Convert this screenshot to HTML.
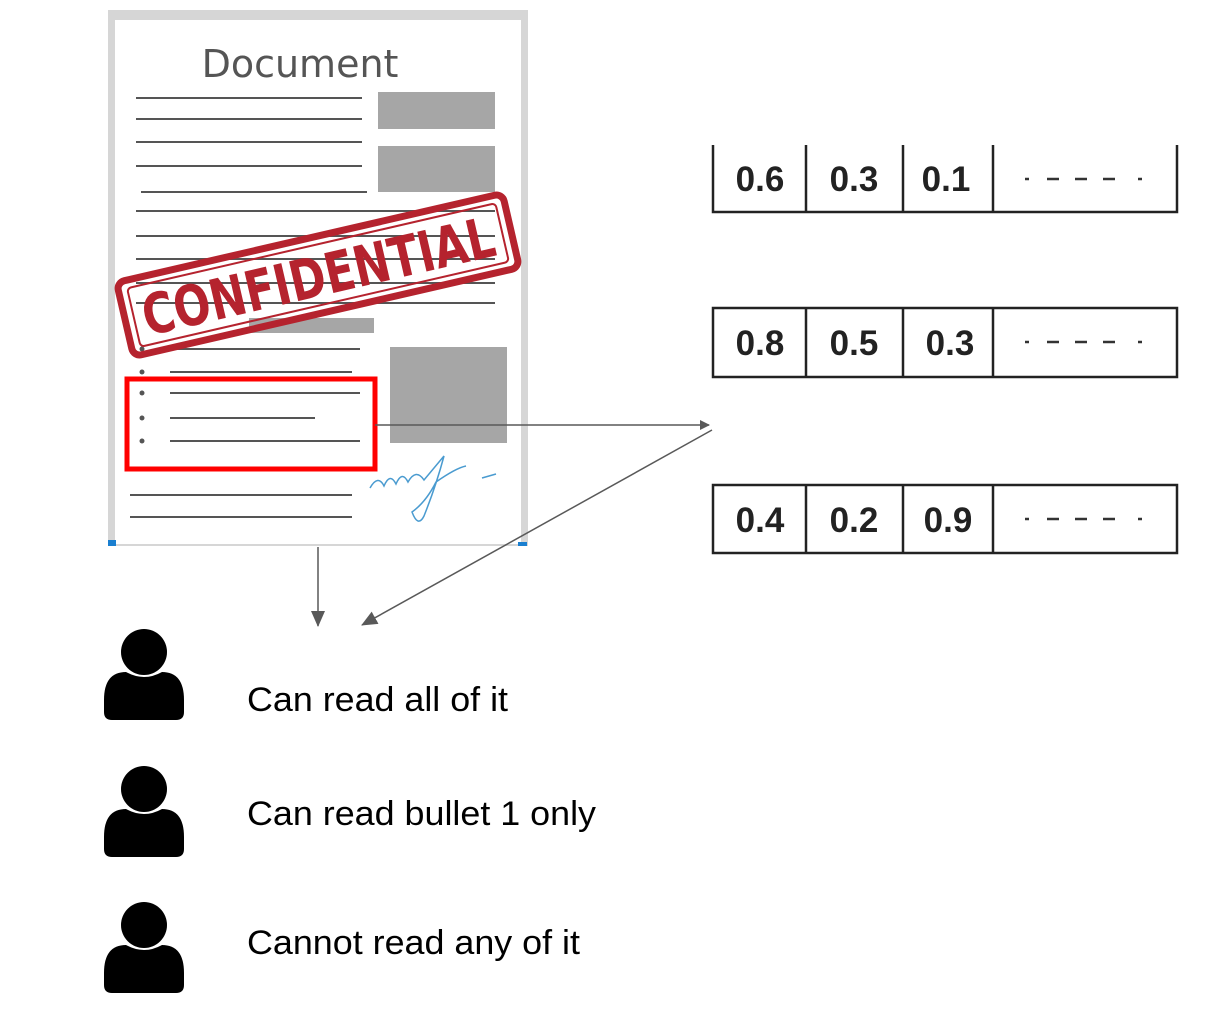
<!DOCTYPE html>
<html><head><meta charset="utf-8"><style>
html,body{margin:0;padding:0;background:#fff;}
svg{display:block}
</style></head><body>
<svg width="1212" height="1028" viewBox="0 0 1212 1028" xmlns="http://www.w3.org/2000/svg" font-family="Liberation Sans, Arial, sans-serif">
<defs>
<marker id="ah" markerWidth="10" markerHeight="10" refX="9" refY="5" orient="auto" markerUnits="userSpaceOnUse">
<path d="M0,0 L10,5 L0,10 z" fill="#595959"/></marker>
<marker id="ah2" markerWidth="16" markerHeight="14" refX="15" refY="7" orient="auto" markerUnits="userSpaceOnUse">
<path d="M0,0 L16,7 L0,14 z" fill="#595959"/></marker>
</defs>
<!-- document page -->
<rect x="108" y="10" width="420" height="536" fill="#d6d6d6"/>
<rect x="115" y="20" width="406" height="524" fill="#fff"/>
<rect x="108" y="540" width="8" height="6" fill="#1a7fd0"/>
<rect x="518" y="542" width="9" height="4" fill="#1a7fd0"/>
<text x="300" y="77" font-size="38" fill="#555" text-anchor="middle" font-family="DejaVu Sans, sans-serif">Document</text>
<g stroke="#555" stroke-width="2">
<line x1="136" y1="98" x2="362" y2="98"/>
<line x1="136" y1="119" x2="362" y2="119"/>
<line x1="136" y1="142" x2="362" y2="142"/>
<line x1="136" y1="166" x2="362" y2="166"/>
<line x1="141" y1="192" x2="367" y2="192"/>
<line x1="136" y1="211" x2="495" y2="211"/>
<line x1="136" y1="236" x2="495" y2="236"/>
<line x1="136" y1="259" x2="495" y2="259"/>
<line x1="136" y1="283" x2="495" y2="283"/>
<line x1="136" y1="303" x2="495" y2="303"/>
<line x1="170" y1="349" x2="360" y2="349"/>
<line x1="170" y1="372" x2="352" y2="372"/>
<line x1="170" y1="393" x2="360" y2="393"/>
<line x1="170" y1="418" x2="315" y2="418"/>
<line x1="170" y1="441" x2="360" y2="441"/>
<line x1="130" y1="495" x2="352" y2="495"/>
<line x1="130" y1="517" x2="352" y2="517"/>
</g>
<g fill="#555"><circle cx="142" cy="349" r="2.5"/><circle cx="142" cy="372" r="2.5"/><circle cx="142" cy="393" r="2.5"/><circle cx="142" cy="418" r="2.5"/><circle cx="142" cy="441" r="2.5"/></g>
<g fill="#a6a6a6">
<rect x="378" y="92" width="117" height="37"/>
<rect x="378" y="146" width="117" height="46"/>
<rect x="249" y="318" width="125" height="15"/>
<rect x="390" y="347" width="117" height="96"/>
</g>
<!-- stamp -->
<g transform="translate(318,275) rotate(-13)">
<rect x="-198" y="-38" width="396" height="76" rx="8" fill="none" stroke="#b5232e" stroke-width="7"/>
<rect x="-189" y="-30" width="378" height="60" rx="4" fill="none" stroke="#b5232e" stroke-width="2"/>
<text x="0" y="21" font-size="56" font-weight="bold" fill="#b5232e" text-anchor="middle" font-family="DejaVu Sans, sans-serif" textLength="360" lengthAdjust="spacingAndGlyphs">CONFIDENTIAL</text>
</g>
<!-- signature -->
<path d="M370,488 q8,-14 14,-2 q6,-14 12,-2 q6,-14 12,-2 q8,-14 16,-2 q10,-12 20,-24 q-8,30 -20,60 q-6,12 -12,-4 q14,-10 24,-30 q20,-14 30,-16 M482,478 l14,-4" fill="none" stroke="#4a9bd0" stroke-width="1.5"/>
<!-- red box -->
<rect x="127" y="379" width="248" height="90" fill="none" stroke="#f00" stroke-width="5"/>
<!-- arrows -->
<g stroke="#595959" stroke-width="1.5" fill="none">
<line x1="375" y1="425" x2="709" y2="425" marker-end="url(#ah)"/>
<line x1="712" y1="430" x2="362" y2="625" marker-end="url(#ah2)"/>
<line x1="318" y1="547" x2="318" y2="626" marker-end="url(#ah2)"/>
</g>
<!-- tables -->
<g stroke="#222" stroke-width="2.5" fill="none">
<path d="M713,145 V212 H1177 V145 M806,145 V212 M903,145 V212 M993,145 V212"/>
<rect x="713" y="308" width="464" height="69"/>
<path d="M806,308 V377 M903,308 V377 M993,308 V377"/>
<rect x="713" y="485" width="464" height="68"/>
<path d="M806,485 V553 M903,485 V553 M993,485 V553"/>
</g>
<g font-size="35" font-weight="bold" fill="#222" text-anchor="middle" font-family="Liberation Sans, sans-serif">
<text x="760" y="191">0.6</text><text x="854" y="191">0.3</text><text x="946" y="191">0.1</text>
<text x="760" y="355">0.8</text><text x="854" y="355">0.5</text><text x="950" y="355">0.3</text>
<text x="760" y="532">0.4</text><text x="854" y="532">0.2</text><text x="948" y="532">0.9</text>
</g>
<g stroke="#333" stroke-width="2.5">
<path d="M1025,179 h4 M1047,179 h12 M1075,179 h12 M1103,179 h12 M1138,179 h4"/>
<path d="M1025,342 h4 M1047,342 h12 M1075,342 h12 M1103,342 h12 M1138,342 h4"/>
<path d="M1025,519 h4 M1047,519 h12 M1075,519 h12 M1103,519 h12 M1138,519 h4"/>
</g>
<!-- persons -->
<g fill="#000">
<g><circle cx="144" cy="652" r="23"/><path d="M104,700 q0,-28 22,-28 q18,10 36,0 q22,0 22,28 v12 q0,8 -8,8 h-64 q-8,0 -8,-8z"/></g>
<g transform="translate(0,137)"><circle cx="144" cy="652" r="23"/><path d="M104,700 q0,-28 22,-28 q18,10 36,0 q22,0 22,28 v12 q0,8 -8,8 h-64 q-8,0 -8,-8z"/></g>
<g transform="translate(0,273)"><circle cx="144" cy="652" r="23"/><path d="M104,700 q0,-28 22,-28 q18,10 36,0 q22,0 22,28 v12 q0,8 -8,8 h-64 q-8,0 -8,-8z"/></g>
</g>
<g font-size="34" fill="#000">
<text x="247" y="711" textLength="261" lengthAdjust="spacingAndGlyphs">Can read all of it</text>
<text x="247" y="825" textLength="349" lengthAdjust="spacingAndGlyphs">Can read bullet 1 only</text>
<text x="247" y="954" textLength="333" lengthAdjust="spacingAndGlyphs">Cannot read any of it</text>
</g>
</svg>
</body></html>
